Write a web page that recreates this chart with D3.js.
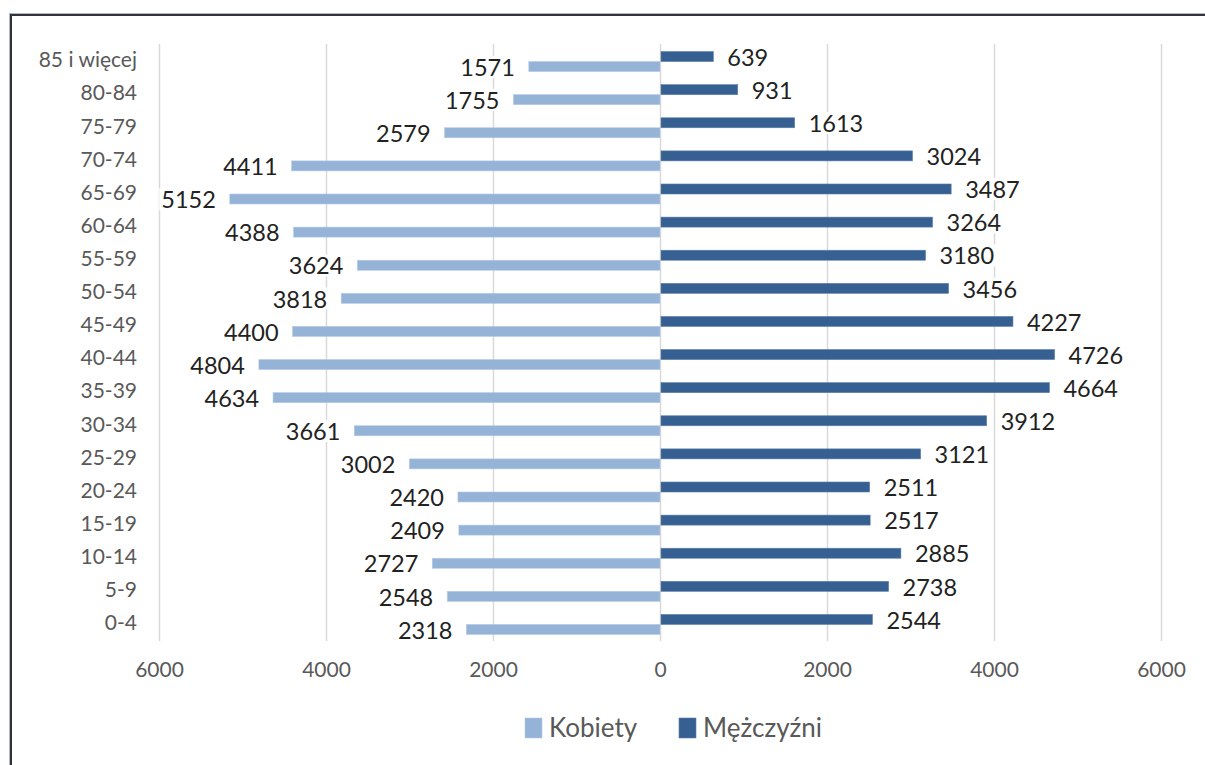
<!DOCTYPE html>
<html>
 <head>
   <meta charset="UTF-8">
   <title>Piramida wieku</title>
<script src="https://d3js.org/d3.v7.min.js"></script>
<style>
html, body{
  margin: 0;
  padding: 0;
  background: #fff;
}
svg{
  display: block;
  font-family: Lato, "Open Sans", sans-serif;
}
</style>
 </head>
<body>
<div id="chart"></div>

<script>
//Age groups, top to bottom
var ageGroups = ["85 i więcej","80-84","75-79","70-74","65-69","60-64","55-59","50-54",
                 "45-49","40-44","35-39","30-34","25-29","20-24","15-19","10-14","5-9","0-4"];

//Kobiety (women) - drawn to the left
var kobiety = [1571,1755,2579,4411,5152,4388,3624,3818,4400,4804,4634,3661,3002,2420,2409,2727,2548,2318];

//Mezczyzni (men) - drawn to the right
var mezczyzni = [639,931,1613,3024,3487,3264,3180,3456,4227,4726,4664,3912,3121,2511,2517,2885,2738,2544];

var xTicks = [-6000,-4000,-2000,0,2000,4000,6000];
var seriesNames = ["Kobiety","Mężczyźni"];

var W = 1205, H = 765;
var colKob = "#95b3d7", colMez = "#366092";
var grey = "#595959";

var svg = d3.select("#chart").append("svg")
  .attr("width", W)
  .attr("height", H);

//frame (only top and left are visible in the picture)
svg.append("line").attr("x1",9).attr("x2",W).attr("y1",13.5).attr("y2",13.5)
  .attr("stroke","#a8b8d0").attr("stroke-width",1);
svg.append("line").attr("x1",10).attr("x2",W).attr("y1",15).attr("y2",15)
  .attr("stroke","#333").attr("stroke-width",2);
svg.append("line").attr("x1",9.5).attr("x2",9.5).attr("y1",13).attr("y2",H)
  .attr("stroke","#a8b8d0").attr("stroke-width",1);
svg.append("line").attr("x1",11).attr("x2",11).attr("y1",14).attr("y2",H)
  .attr("stroke","#333").attr("stroke-width",2);

var x = d3.scaleLinear().domain([-6000,6000]).range([159,1161]);
var y = d3.scaleBand().domain(ageGroups).range([45,641]);
var sub = d3.scaleBand().domain(["M","K"]).range([0,y.bandwidth()])
  .paddingInner(0).paddingOuter(0.655);

//gridlines
svg.append("g").selectAll("line")
  .data(xTicks)
  .enter().append("line")
  .attr("x1", function(d){ return Math.round(x(d))+0.5; })
  .attr("x2", function(d){ return Math.round(x(d))+0.5; })
  .attr("y1", 44)
  .attr("y2", 641)
  .attr("stroke","#d9d9d9")
  .attr("stroke-width",1.5);

//x axis labels
var xAxis = d3.axisBottom(x).tickValues(xTicks)
  .tickFormat(function(d){ return Math.abs(d); })
  .tickSize(0).tickPadding(0);
var gx = svg.append("g").attr("transform","translate(0,662)").call(xAxis);
gx.select(".domain").remove();
gx.selectAll("text")
  .attr("dy","0.71em")
  .style("font-family","Lato, sans-serif")
  .style("font-size","21px")
  .attr("fill",grey);

//y axis labels
var yAxis = d3.axisLeft(y).tickSize(0).tickPadding(0);
var gy = svg.append("g").attr("transform","translate(137,-1)").call(yAxis);
gy.select(".domain").remove();
gy.selectAll("text")
  .style("font-family","Lato, sans-serif")
  .style("font-size","21px")
  .attr("fill",grey);

var rows = ageGroups.map(function(g,i){
  return {grp: g, k: kobiety[i], m: mezczyzni[i]};
});

//bars - kobiety
svg.append("g").selectAll("rect")
  .data(rows)
  .enter().append("rect")
  .attr("x", function(d){ return x(-d.k); })
  .attr("y", function(d){ return y(d.grp) + sub("K"); })
  .attr("width", function(d){ return x(0) - x(-d.k); })
  .attr("height", sub.bandwidth())
  .attr("fill", colKob)
  .attr("stroke","#b4c9e4").attr("stroke-width",0.6);

//bars - mezczyzni
svg.append("g").selectAll("rect")
  .data(rows)
  .enter().append("rect")
  .attr("x", x(0)+1)
  .attr("y", function(d){ return y(d.grp) + sub("M"); })
  .attr("width", function(d){ return x(d.m) - x(0) - 1; })
  .attr("height", sub.bandwidth())
  .attr("fill", colMez)
  .attr("stroke","#5d7fa8").attr("stroke-width",0.6);

//data labels with white box behind
function addLabels(key, anchor, sign){
  var g = svg.append("g");
  var lab = g.selectAll("g")
    .data(rows)
    .enter().append("g");
  lab.append("rect").attr("fill","#fff");
  lab.append("text")
    .attr("x", function(d){ return x(sign*d[key]) + sign*14; })
    .attr("y", function(d){ return y(d.grp) + sub(key=="k" ? "K" : "M") + sub.bandwidth()/2 + 1; })
    .attr("dy","0.35em")
    .attr("text-anchor", anchor)
    .style("font-size","23.5px")
    .attr("fill","#222")
    .text(function(d){ return d[key]; });
  lab.each(function(){
    var t = d3.select(this).select("text").node().getBBox();
    d3.select(this).select("rect")
      .attr("x", t.x-2).attr("y", t.y+3)
      .attr("width", t.width+4).attr("height", t.height-6);
  });
}
addLabels("k","end",-1);
addLabels("m","start",1);

//legend
var legX = [525, 679];
var leg = svg.append("g").selectAll("g")
  .data(seriesNames)
  .enter().append("g")
  .attr("transform", function(d,i){ return "translate(" + legX[i] + ",0)"; });
leg.append("rect")
  .attr("x",0).attr("y",718)
  .attr("width",17).attr("height",20)
  .attr("fill", function(d,i){ return i==0 ? colKob : colMez; })
  .attr("stroke", function(d,i){ return i==0 ? "#b4c9e4" : "#5d7fa8"; })
  .attr("stroke-width",0.6);
leg.append("text")
  .attr("x",24).attr("y",737)
  .style("font-size","26px")
  .attr("fill",grey)
  .text(function(d){ return d; });
</script>
</body>
</html>
